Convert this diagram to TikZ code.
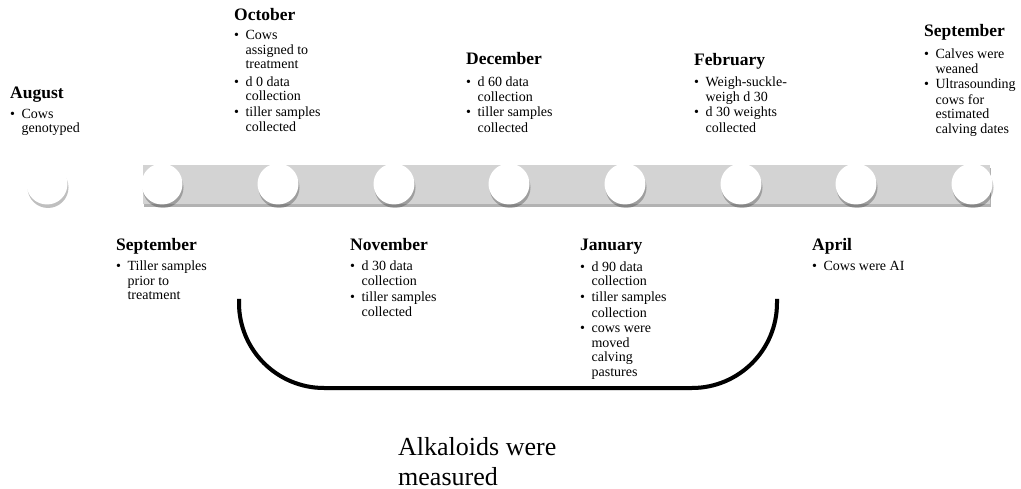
\documentclass[tikz,border=0pt]{standalone}
\usepackage{fontspec}
\setmainfont{Liberation Serif}
\usetikzlibrary{shadows}
\newcommand{\mhead}[1]{{\fontsize{17.5}{19}\selectfont\bfseries #1}}
\newcommand{\blist}[1]{\begin{tabular}[t]{@{}l@{\hspace{6.5pt}}l@{}}#1\end{tabular}}
\definecolor{barGray}{HTML}{D3D3D3}
\tikzset{
 month/.style={anchor=north west, inner sep=0pt, align=left, font=\fontsize{14}{14.5}\selectfont},
 dot/.style={circle, fill=white, minimum size=41pt, inner sep=0pt,
   drop shadow={shadow xshift=1pt, shadow yshift=-3.5pt, opacity=0.25, fill=black}},
 bar/.style={fill=barGray, drop shadow={shadow xshift=1pt, shadow yshift=-3pt, opacity=0.3, fill=black}},
}
\begin{document}
\begin{tikzpicture}[x=1pt,y=-1pt]
\useasboundingbox (0,0) rectangle (1021,489);
% bar
\path[bar] (143,165) rectangle (990,204);
% circles
\foreach \i/\x in {1/47,2/162,3/278,4/394,5/509,6/625,7/741,8/856,9/972}
  \node[dot] (c\i) at (\x,184) {};
% top texts
\node[month] (aug) at (10,87) {\mhead{August}\\[5pt]
 \blist{\textbullet & Cows\\ & genotyped}};
\node[month] (oct) at (234,8) {\mhead{October}\\[5pt]
 \blist{\textbullet & Cows\\ & assigned to\\ & treatment\\[3pt]
 \textbullet & d 0 data\\ & collection\\[1pt]
 \textbullet & tiller samples\\[1pt] & collected}};
\node[month] (dec) at (466,52) {\mhead{December}\\[8pt]
 \blist{\textbullet & d 60 data\\ & collection\\[1pt]
 \textbullet & tiller samples\\[1pt] & collected}};
\node[month] (feb) at (694,53) {\mhead{February}\\[7pt]
 \blist{\textbullet & Weigh-suckle-\\ & weigh d 30\\[1pt]
 \textbullet & d 30 weights\\[1pt] & collected}};
\node[month] (sep2) at (924,24) {\mhead{September}\\[8pt]
 \blist{\textbullet & Calves were\\ & weaned\\[1pt]
 \textbullet & Ultrasounding\\[1pt] & cows for\\ & estimated\\ & calving dates}};
% bottom texts
\node[month] (sep1) at (116,238) {\mhead{September}\\[6pt]
 \blist{\textbullet & Tiller samples\\ & prior to\\ & treatment}};
\node[month] (nov) at (350,238) {\mhead{November}\\[6pt]
 \blist{\textbullet & d 30 data\\ & collection\\[1.5pt]
 \textbullet & tiller samples\\[1pt] & collected}};
\node[month] (jan) at (580,239) {\mhead{January}\\[6pt]
 \blist{\textbullet & d 90 data\\ & collection\\[1.5pt]
 \textbullet & tiller samples\\[1pt] & collection\\[1pt]
 \textbullet & cows were\\ & moved\\ & calving\\ & pastures}};
\node[month] (apr) at (812,238) {\mhead{April}\\[6pt]
 \blist{\textbullet & Cows were AI}};
% bracket
\coordinate (b1) at (239,299);
\coordinate (b2) at (239,388);
\coordinate (b3) at (777,388);
\coordinate (b4) at (777,299);
\draw[line width=4pt, black!30, opacity=0.5, rounded corners=85pt, xshift=2pt, yshift=-3pt] (b1) -- (b2) -- (b3) -- (b4);
\draw[line width=4pt, rounded corners=85pt] (b1) -- (b2) -- (b3) -- (b4);
% label
\node[anchor=north west, inner sep=0pt, align=left, font=\fontsize{26}{30}\selectfont] (alk) at (398,437) {Alkaloids were\\measured};
\end{tikzpicture}
\end{document}
